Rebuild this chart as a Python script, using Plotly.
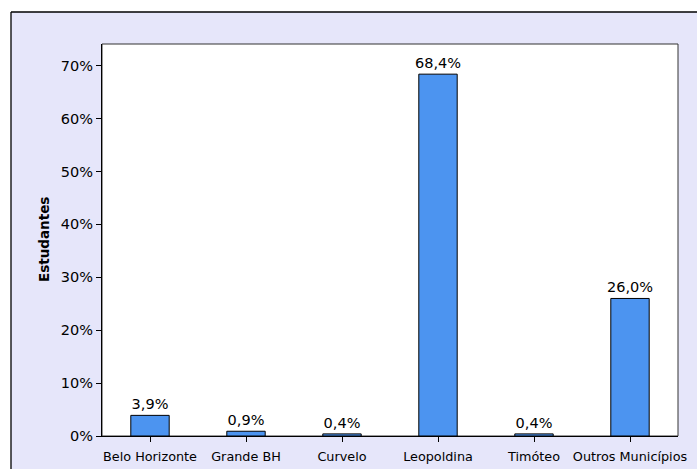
import plotly.graph_objects as go

categories = ["Belo Horizonte", "Grande BH", "Curvelo", "Leopoldina", "Timóteo", "Outros Municípios"]
values = [3.9, 0.9, 0.4, 68.4, 0.4, 26.0]
labels = [f"{v:.1f}%".replace(".", ",") for v in values]
y_ticks = [0, 10, 20, 30, 40, 50, 60, 70]
y_ticktext = [f"{t}%" for t in y_ticks]

W, H = 697, 469
L, R, T, B = 102, 19, 44, 33
pw, ph = W - L - R, H - T - B

def px_x(p):
    return (p - L) / pw

def px_y(p):
    return (H - B - p) / ph

fig = go.Figure(go.Bar(
    x=categories, y=values, text=labels, textposition="outside",
    textfont=dict(family="DejaVu Sans", size=14.5, color="#000000"),
    marker=dict(color="#4C94F0", line=dict(color="#000000", width=1)),
    cliponaxis=False, width=0.4, constraintext="none",
))

fig.update_layout(
    width=W, height=H,
    margin=dict(l=L, r=R, t=T, b=B),
    paper_bgcolor="#FFFFFF", plot_bgcolor="rgba(0,0,0,0)",
    showlegend=False,
    font=dict(family="DejaVu Sans", size=13, color="#000000"),
    shapes=[
        dict(type="rect", xref="paper", yref="paper", layer="below",
             x0=px_x(11), x1=px_x(720), y0=px_y(490), y1=px_y(12),
             fillcolor="#E6E6FA", line=dict(width=0)),
        dict(type="line", xref="paper", yref="paper", layer="below",
             x0=px_x(11), x1=px_x(720), y0=px_y(12), y1=px_y(12),
             line=dict(color="#000000", width=1.3)),
        dict(type="line", xref="paper", yref="paper", layer="below",
             x0=px_x(11), x1=px_x(11), y0=px_y(12), y1=px_y(490),
             line=dict(color="#000000", width=1.3)),
        dict(type="rect", xref="paper", yref="paper", layer="below",
             x0=0, x1=1, y0=0, y1=1,
             fillcolor="#FFFFFF", line=dict(color="#333333", width=1)),
    ],
    annotations=[
        dict(text="<b>Estudantes</b>", xref="paper", yref="paper",
             x=px_x(44), y=0.5, textangle=-90, showarrow=False,
             font=dict(family="DejaVu Sans", size=13.5, color="#000000"),
             xanchor="center", yanchor="middle"),
    ],
)

fig.update_xaxes(
    showline=True, linecolor="#000000", linewidth=1,
    ticks="outside", ticklen=5, tickcolor="#000000",
    tickfont=dict(family="DejaVu Sans", size=12.8),
    ticklabelstandoff=4, automargin=False,
    showgrid=False, zeroline=False,
)
fig.update_yaxes(
    range=[0, 74.1], tickvals=y_ticks, ticktext=y_ticktext,
    showline=True, linecolor="#000000", linewidth=1,
    ticks="outside", ticklen=5, tickcolor="#000000",
    tickfont=dict(family="DejaVu Sans", size=14.5),
    automargin=False,
    showgrid=False, zeroline=False,
)

fig.write_html(
    "out.html",
    config={"displayModeBar": False},
    post_script="document.body.style.margin='0';document.body.style.overflow='hidden';",
)
